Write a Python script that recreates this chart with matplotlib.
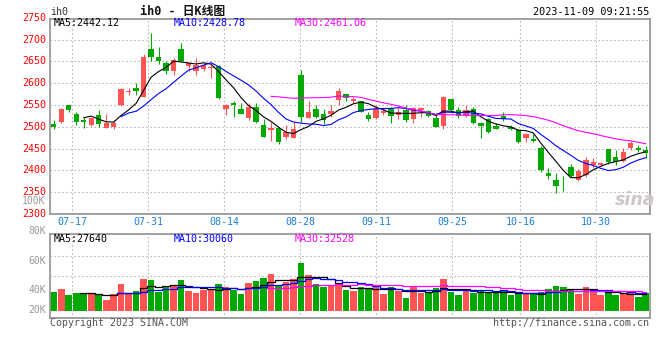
import matplotlib
matplotlib.use("Agg")
import matplotlib.pyplot as plt
import numpy as np
import pandas as pd

# ---------------- data ----------------
dates = ["07-12", "07-13", "07-14", "07-17", "07-18", "07-19", "07-20", "07-21", "07-24", "07-25",
         "07-26", "07-27", "07-28", "07-31", "08-01", "08-02", "08-03", "08-04", "08-07", "08-08",
         "08-09", "08-10", "08-11", "08-14", "08-15", "08-16", "08-17", "08-18", "08-21", "08-22",
         "08-23", "08-24", "08-25", "08-28", "08-29", "08-30", "08-31", "09-01", "09-04", "09-05",
         "09-06", "09-07", "09-08", "09-11", "09-12", "09-13", "09-14", "09-15", "09-18", "09-19",
         "09-20", "09-21", "09-22", "09-25", "09-26", "09-27", "09-28", "10-09", "10-10", "10-11",
         "10-12", "10-13", "10-16", "10-17", "10-18", "10-19", "10-20", "10-23", "10-24", "10-25",
         "10-26", "10-27", "10-30", "10-31", "11-01", "11-02", "11-03", "11-06", "11-07", "11-08"]

opens = [2506, 2511, 2550, 2529, 2516, 2503, 2527, 2498, 2500.5, 2549,
         2579, 2590, 2569, 2679, 2659, 2646, 2629, 2679, 2640, 2629,
         2631.5, 2634, 2640, 2540, 2555.6, 2541, 2521, 2546, 2503, 2493,
         2497, 2477.6, 2475, 2619, 2521, 2541, 2529.6, 2528.8, 2561.7, 2575.4,
         2558, 2559.4, 2527.3, 2521, 2531, 2541, 2527, 2538.7, 2518, 2538.7,
         2536.4, 2519.6, 2502.8, 2564, 2538.7, 2525.7, 2541, 2508.2, 2518, 2502.8,
         2525.7, 2500, 2492, 2474, 2472.2, 2450.8, 2395, 2378.2, 2378.2, 2408,
         2378.2, 2389.7, 2412.6, 2412.6, 2449.3, 2430.2, 2421.8, 2452.4, 2452.4, 2447]
highs = [2516, 2544, 2551, 2533, 2520, 2521, 2538, 2530, 2516, 2588,
         2588, 2600, 2667, 2715, 2682, 2651, 2657, 2692, 2648, 2657,
         2647, 2642, 2641, 2553, 2559, 2554, 2554, 2554, 2518, 2512,
         2498.5, 2504, 2512, 2630.5, 2559, 2549, 2541, 2550, 2590, 2576,
         2569, 2559.4, 2533.4, 2550, 2541, 2546, 2544, 2550, 2546, 2546.4,
         2538.7, 2531, 2571.6, 2564.5, 2546.4, 2550, 2546.4, 2510.5, 2519.6, 2508.2,
         2535, 2504, 2494, 2485.2, 2482.9, 2456.9, 2404.9, 2393.5, 2388, 2414,
         2403.4, 2431.7, 2427.9, 2420, 2450, 2447, 2450.8, 2467.6, 2458.5, 2456.9]
lows = [2494, 2509, 2535, 2503, 2498, 2502, 2500, 2497, 2496, 2548,
        2573, 2572, 2568, 2651, 2643, 2620, 2619, 2648, 2628, 2619,
        2629, 2613, 2564, 2526, 2523.5, 2529, 2516, 2508, 2477, 2467.6,
        2460, 2472, 2475, 2512, 2521, 2519.6, 2506, 2523.5, 2550, 2559.4,
        2554, 2533.4, 2513.5, 2518, 2527, 2508, 2518, 2512, 2508, 2523.5,
        2523.5, 2500, 2495, 2535, 2521, 2523.5, 2506, 2475, 2485, 2495,
        2514, 2492, 2462, 2464.6, 2466.1, 2397.3, 2380.5, 2347.6, 2352, 2384,
        2375.9, 2385.8, 2406.5, 2411, 2414.1, 2412.6, 2420.2, 2447, 2441.7, 2427.9]
closes = [2500, 2541, 2539.5, 2512, 2510.5, 2519.6, 2506, 2509, 2509, 2587,
          2583, 2581, 2659, 2659, 2652, 2629, 2653, 2651, 2646, 2641,
          2642.5, 2638, 2566, 2550, 2550.2, 2530, 2546, 2510, 2477.6, 2498,
          2464, 2487.5, 2495, 2523.5, 2533.4, 2523.5, 2515.8, 2536.4, 2582.3, 2565.5,
          2564, 2535, 2518, 2541, 2537, 2525.7, 2533.4, 2515.8, 2542.6, 2544,
          2525.7, 2500.5, 2569.3, 2538.7, 2525.7, 2538.7, 2508.2, 2502.8, 2487.5, 2495.2,
          2518, 2494, 2466, 2483, 2468.4, 2401, 2388, 2365, 2377, 2386,
          2399.6, 2424, 2420, 2418, 2418.7, 2420.2, 2443.2, 2462.3, 2447, 2439.4]
volumes = [31700, 36700, 26700, 30000, 27800, 28300, 28300, 18300, 28300, 45000,
           27800, 33300, 53300, 51700, 31700, 41100, 41100, 51700, 33900, 30000,
           35600, 34500, 45000, 40000, 34500, 28300, 46700, 50000, 55000, 61700,
           42200, 48300, 53300, 80600, 60000, 45000, 40600, 41100, 43300, 35000,
           33300, 40000, 36100, 41700, 28300, 40600, 33300, 22200, 40600, 30600,
           32200, 38300, 53300, 32200, 26700, 33300, 30000, 35000, 31100, 29500,
           34500, 26700, 29500, 27800, 29500, 31100, 36700, 41700, 40000, 36700,
           28300, 40000, 35000, 26700, 29500, 26700, 29500, 30600, 23300, 29500]

date_ticks = ["07-17", "07-31", "08-14", "08-28", "09-11", "09-25", "10-16", "10-30"]
price_ticks = [2300, 2350, 2400, 2450, 2500, 2550, 2600, 2650, 2700, 2750]
vol_tick_labels = ["100K", "80K", "60K", "40K", "20K"]
price_ma_text = ["MA5:2442.12", "MA10:2428.78", "MA30:2461.06"]
vol_ma_text = ["MA5:27640", "MA10:30060", "MA30:32528"]

# ---------------- style ----------------
RED = "#ff5454"
GREEN = "#00a800"
MA_COLORS = ["#000000", "#0000ff", "#ff00ff"]
GRID = "#aaaaaa"
FRAME = "#9a9a9a"
MONO = "DejaVu Sans Mono"
DOT = (0, (1.2, 2.4))

W, H = 660, 360
fig = plt.figure(figsize=(W / 100, H / 100), dpi=100)
fig.patch.set_facecolor("white")


def fpos(px, py):
    return px / W, 1 - py / H


ax = fig.add_axes([50 / W, 1 - 214 / H, 599.5 / W, 195 / H])
axv = fig.add_axes([50 / W, 1 - 318 / H, 599.5 / W, 83.7 / H])

n = len(dates)
x = np.arange(n)
o = np.array(opens, float)
c = np.array(closes, float)
hi = np.array(highs, float)
lo = np.array(lows, float)
vol = np.array(volumes, float)
up = c >= o
cols = np.where(up, RED, GREEN)

# tick positions (sina grid drifts slightly relative to candle slots)
tick_idx = np.array([dates.index(d) for d in date_ticks])
tick_pos = (7.6 * tick_idx - 4.25) / 7.5

for a in (ax, axv):
    a.set_xlim(-0.5, n - 0.5)
    for s in a.spines.values():
        s.set_color(FRAME)
        s.set_linewidth(1.3)
    a.set_yticks([])
    for t in tick_pos:
        a.axvline(t, color=GRID, lw=0.8, ls=DOT, zorder=0)

# ---- main panel ----
ax.set_ylim(2300, 2747.2)
for p in price_ticks[1:-1]:
    ax.axhline(p, color=GRID, lw=0.8, ls=DOT, zorder=0)
ax.vlines(x, lo, hi, colors=cols, lw=0.8, zorder=2)
body_b = np.minimum(o, c)
body_h = np.maximum(np.abs(c - o), 1.3)
ax.bar(x, body_h, bottom=body_b, width=0.72, color=cols, linewidth=0, zorder=3)

cs = pd.Series(c)
for win, col in zip([5, 10, 30], MA_COLORS):
    ma = cs.rolling(win).mean()
    ax.plot(x, ma, color=col, lw=0.8, zorder=4)

ax.set_xticks(tick_pos)
ax.set_xticklabels(date_ticks, fontsize=7.2, family=MONO, color="#1a7fd6")
ax.tick_params(axis="x", length=0, pad=2.5)
for p in price_ticks:
    ax.text(-0.007, p, str(p), transform=ax.get_yaxis_transform(), ha="right",
            va="center", fontsize=7.2, family=MONO, color="#ff0000", clip_on=False)

# ---- volume panel ----
axv.set_ylim(-7 * 1667, 76.7 * 1667)
axv.set_xticks([])
for f in (0.744, 0.505):
    axv.plot([0, 1], [f, f], transform=axv.transAxes, color=GRID, lw=0.8, ls=DOT, zorder=0)
axv.bar(x, vol, width=0.88, color=cols, linewidth=0, zorder=2)
vs = pd.Series(vol)
for win, col in zip([5, 10, 30], MA_COLORS):
    axv.plot(x, vs.rolling(win).mean(), color=col, lw=0.9, drawstyle="steps-mid", zorder=3)
for lab, f in zip(vol_tick_labels, [1.392, 1.039, 0.684, 0.331, 0.092]):
    axv.text(-0.007, f, lab, transform=axv.transAxes, ha="right", va="center",
             fontsize=7.0, family=MONO, color="#999999", clip_on=False)

# ---- texts ----
for txt, px, col in zip(price_ma_text, [54, 174, 295], MA_COLORS):
    fig.text(*fpos(px, 23.5), txt, ha="left", va="center", fontsize=7.2, family=MONO, color=col)
for txt, px, col in zip(vol_ma_text, [54, 174, 295], MA_COLORS):
    fig.text(*fpos(px, 239.5), txt, ha="left", va="center", fontsize=7.2, family=MONO, color=col)

fig.text(*fpos(50.5, 12), "ih0", ha="left", va="center", fontsize=7.2, family=MONO, color="#333333")
fig.text(*fpos(140, 12), "ih0 - 日K线图", ha="left", va="center", fontsize=8.5,
         family=[MONO, "Noto Sans CJK SC"], color="#111111", fontweight="bold")
fig.text(*fpos(649.5, 12), "2023-11-09 09:21:55", ha="right", va="center", fontsize=7.3,
         family=MONO, color="#000000")
fig.text(*fpos(50, 323), "Copyright 2023 SINA.COM", ha="left", va="center", fontsize=7.1,
         family=MONO, color="#555555")
fig.text(*fpos(649.5, 323), "http://finance.sina.com.cn", ha="right", va="center", fontsize=7.2,
         family=MONO, color="#555555")
fig.text(*fpos(635, 200), "sina", ha="center", va="center", fontsize=12.5, style="italic",
         fontweight="bold", family="DejaVu Sans", color="#cfc6c6", zorder=1)

fig.savefig("out.png", dpi=100, facecolor="white")
